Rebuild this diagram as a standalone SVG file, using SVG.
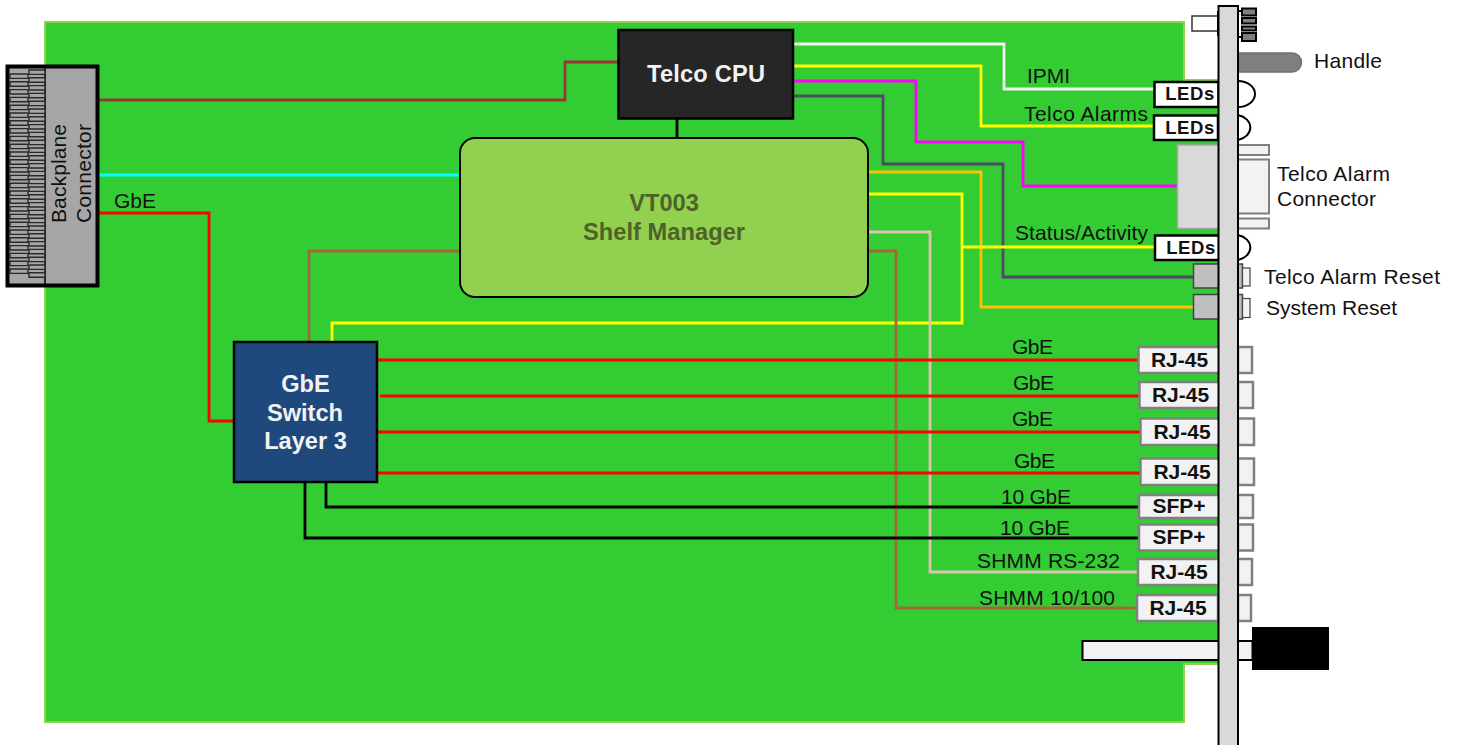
<svg xmlns="http://www.w3.org/2000/svg" width="1461" height="745" viewBox="0 0 1461 745">
<defs>
<style>
text{font-family:"Liberation Sans",Arial,sans-serif;fill:#111}
.l{font-size:21px}
.b{font-weight:bold;font-size:21px;text-anchor:middle}
.n{font-weight:bold;font-size:23.6px;text-anchor:middle;fill:#f2f2f2}
.led{font-weight:bold;font-size:18.5px;letter-spacing:.6px;text-anchor:middle}
.w{fill:none;stroke-width:2.800}
.p{fill:#f2f2f2;stroke:#808080;stroke-width:2.500}
.k{fill:#fff;stroke:#000;stroke-width:2.500}
.g{fill:#bfbfbf;stroke:#444;stroke-width:1.500}
.t{fill:#f2f2f2;stroke:#7f7f7f;stroke-width:2}
.q{fill:#fff;stroke:#000;stroke-width:2}
</style>
</defs>
<path id="board" d="M45,22H1184V80H1225V664H1184V722H45Z" fill="#33cc33" stroke="#92d050" stroke-width="2"/>
<g id="connectors" class="w">
<path class="w" stroke="#953735" d="M99,100H565V62H618"/>
<path class="w" stroke="#00ffff" d="M99,175H460"/>
<path class="w" stroke="#ff0000" d="M99,213H209V421H234"/>
<path class="w" stroke="#000" d="M677,118V138"/>
<path class="w" stroke="#f2f2f2" d="M793,44H1004V89H1154"/>
<path class="w" stroke="#ffff00" d="M793,66H981V126H1154"/>
<path class="w" stroke="#ff00ff" d="M793,81H916V142H1023V186H1178"/>
<path class="w" stroke="#4f4a66" d="M793,96H883V164H1003V277H1193"/>
<path class="w" stroke="#ffc000" d="M868,172H981V307H1193"/>
<path class="w" stroke="#ffff00" d="M868,194H962V323H332V342M962,247H1155"/>
<path class="w" stroke="#ddc3b0" d="M868,232H930V572H1138"/>
<path class="w" stroke="#a5663c" d="M868,251H896V608H1137M460,251H309V342"/>
<path class="w" stroke="#ff0000" d="M377,360H1138M380,396H1139M377,432H1140M377,473H1140"/>
<path class="w" stroke="#000" d="M326,482V507H1139M305,482V538H1139"/>
</g>
<g id="backplane-connector">
<rect x="7.500" y="66.500" width="90" height="219" fill="#a6a6a6" stroke="#000" stroke-width="4"/>
<path d="M45,68V284" stroke="#000" stroke-width="1.500"/>
<path fill="#a6a6a6" stroke="#2a2a2a" stroke-width="1.400" d="M10,74h18v4.400h-18zm0,7.800h18v4.400h-18zm0,7.800h18v4.400h-18zm0,7.800h18v4.400h-18zm0,7.800h18v4.400h-18zm0,7.800h18v4.400h-18zm0,7.800h18v4.400h-18zm0,7.800h18v4.400h-18zm0,7.800h18v4.400h-18zm0,7.800h18v4.400h-18zm0,7.800h18v4.400h-18zm0,7.800h18v4.400h-18zm0,7.800h18v4.400h-18zm0,7.800h18v4.400h-18zm0,7.800h18v4.400h-18zm0,7.800h18v4.400h-18zm0,7.800h18v4.400h-18zm0,7.800h18v4.400h-18zm0,7.800h18v4.400h-18zm0,7.800h18v4.400h-18zm0,7.800h18v4.400h-18zm0,7.800h18v4.400h-18zm0,7.800h18v4.400h-18zm0,7.800h18v4.400h-18zm0,7.800h18v4.400h-18zm0,7.800h18v4.400h-18z"/>
<path fill="#a6a6a6" stroke="#2a2a2a" stroke-width="1.400" d="M29,70h16v4.400h-16zm0,7.800h16v4.400h-16zm0,7.800h16v4.400h-16zm0,7.800h16v4.400h-16zm0,7.800h16v4.400h-16zm0,7.800h16v4.400h-16zm0,7.800h16v4.400h-16zm0,7.800h16v4.400h-16zm0,7.800h16v4.400h-16zm0,7.800h16v4.400h-16zm0,7.800h16v4.400h-16zm0,7.800h16v4.400h-16zm0,7.800h16v4.400h-16zm0,7.800h16v4.400h-16zm0,7.800h16v4.400h-16zm0,7.800h16v4.400h-16zm0,7.800h16v4.400h-16zm0,7.800h16v4.400h-16zm0,7.800h16v4.400h-16zm0,7.800h16v4.400h-16zm0,7.800h16v4.400h-16zm0,7.800h16v4.400h-16zm0,7.800h16v4.400h-16zm0,7.800h16v4.400h-16zm0,7.800h16v4.400h-16zm0,7.800h16v4.400h-16zm0,7.800h16v4.400h-16z"/>
<text class="l" text-anchor="middle" textLength="99" transform="translate(66,173.500) rotate(-90)">Backplane</text>
<text class="l" text-anchor="middle" textLength="99" transform="translate(91,173.500) rotate(-90)">Connector</text>
</g>
<g id="telco-cpu"><rect x="618.500" y="30" width="174.500" height="88.500" fill="#262626" stroke="#000" stroke-width="2.500"/><text class="n" x="706" y="82" textLength="118">Telco CPU</text></g>
<g id="shelf-manager"><rect x="460" y="138" width="408" height="159" rx="15" fill="#92d050" stroke="#000" stroke-width="2"/><text class="n" style="fill:#4f6228" x="664" y="211">VT003</text><text class="n" style="fill:#4f6228" x="664" y="240" textLength="162">Shelf Manager</text></g>
<g id="gbe-switch"><rect x="234" y="342" width="143" height="140" fill="#1f497d" stroke="#000" stroke-width="2.500"/><text class="n" x="305.500" y="392">GbE</text><text class="n" x="305" y="421">Switch</text><text class="n" x="305.500" y="449">Layer 3</text></g>
<g id="top-screw">
<rect x="1192" y="16" width="27" height="15" fill="#fff" stroke="#333" stroke-width="1.500"/>
<path d="M1218,11V36M1238,11H1242M1238,37H1242" stroke="#000" stroke-width="2"/>
<path d="M1242,8.500h14v7h-14zM1242,18h14v5.500h-14zM1242,26.500h14v4h-14zM1242,33h14v8h-14z" fill="#7f7f7f" stroke="#000" stroke-width="2"/>
</g>
<g id="handle"><path d="M1238,53H1292a9.500,9.500 0 0 1 0,19H1238Z" fill="#7f7f7f" stroke="#6f6f6f" stroke-width="1.500"/><text class="l" x="1314" y="68" textLength="68">Handle</text></g>
<g id="leds-1"><path class="q" d="M1238,81a17,13 0 0 1 0,26"/><rect class="k" x="1154.500" y="82" width="64" height="25"/><text class="led" x="1190" y="100">LEDs</text></g>
<g id="leds-2"><path class="q" d="M1238,115a17,13 0 0 1 0,25"/><rect class="k" x="1154" y="115.500" width="64" height="24.500"/><text class="led" x="1190" y="134">LEDs</text></g>
<g id="leds-3"><path class="q" d="M1238,235a17,13 0 0 1 0,25"/><rect class="k" x="1155" y="235.500" width="64" height="24.500"/><text class="led" x="1191" y="254">LEDs</text></g>
<g id="telco-alarm-connector">
<rect x="1177.500" y="145" width="42" height="83.500" fill="#d9d9d9" stroke="#a6a6a6" stroke-width="1.500"/>
<rect class="t" x="1238" y="145" width="31" height="10"/><rect class="t" x="1238" y="159.500" width="31" height="54"/><rect class="t" x="1238" y="218.500" width="31" height="10"/>
<text class="l" x="1277" y="181" textLength="113">Telco Alarm</text><text class="l" x="1277" y="206" textLength="99">Connector</text>
</g>
<g id="telco-alarm-reset"><rect class="g" x="1193.500" y="264" width="26" height="24"/><rect class="g" x="1238" y="264" width="4.500" height="24"/><rect x="1242.500" y="268" width="7.500" height="18" fill="#f2f2f2" stroke="#444" stroke-width="1.200"/><text class="l" x="1264" y="284" textLength="176">Telco Alarm Reset</text></g>
<g id="system-reset"><rect class="g" x="1193.500" y="294.500" width="26" height="24.500"/><rect class="g" x="1238" y="294.500" width="4.500" height="24.500"/><rect x="1242.500" y="298.500" width="7.500" height="19" fill="#f2f2f2" stroke="#444" stroke-width="1.200"/><text class="l" x="1266" y="315" textLength="131">System Reset</text></g>
<g id="port-1"><rect class="p" x="1138.500" y="347" width="81" height="26"/><rect class="p" x="1238" y="347" width="14" height="26"/><text class="b" x="1179.500" y="367">RJ-45</text></g>
<g id="port-2"><rect class="p" x="1139.500" y="382" width="81" height="26"/><rect class="p" x="1238" y="382" width="15" height="26"/><text class="b" x="1180.500" y="402">RJ-45</text></g>
<g id="port-3"><rect class="p" x="1140.500" y="418.500" width="81" height="26.500"/><rect class="p" x="1238" y="418.500" width="16" height="26.500"/><text class="b" x="1182" y="439">RJ-45</text></g>
<g id="port-4"><rect class="p" x="1140.500" y="458.500" width="81" height="26.500"/><rect class="p" x="1238" y="458.500" width="16" height="26.500"/><text class="b" x="1182" y="479">RJ-45</text></g>
<g id="port-5"><rect class="p" x="1139" y="495" width="81" height="23"/><rect class="p" x="1238" y="495" width="15" height="23"/><text class="b" x="1179" y="513">SFP+</text></g>
<g id="port-6"><rect class="p" x="1139" y="524.500" width="81" height="26"/><rect class="p" x="1238" y="524.500" width="15" height="26"/><text class="b" x="1179" y="544">SFP+</text></g>
<g id="port-7"><rect class="p" x="1138" y="559" width="81" height="26"/><rect class="p" x="1238" y="559" width="14" height="26"/><text class="b" x="1179" y="579">RJ-45</text></g>
<g id="port-8"><rect class="p" x="1137" y="595" width="81" height="26"/><rect class="p" x="1238" y="595" width="13" height="26"/><text class="b" x="1178" y="615">RJ-45</text></g>
<g id="bottom-latch"><rect x="1082.500" y="641" width="170" height="19" fill="#f2f2f2" stroke="#000" stroke-width="2"/><rect x="1252" y="627" width="77" height="43" fill="#000"/></g>
<g id="front-panel"><rect x="1218.500" y="6" width="19.500" height="745" fill="#d9d9d9" stroke="#000" stroke-width="2"/></g>
<g id="labels">
<text class="l" x="114" y="208">GbE</text>
<text class="l" x="1027" y="83" textLength="43">IPMI</text>
<text class="l" x="1024" y="121" textLength="124">Telco Alarms</text>
<text class="l" x="1015" y="240" textLength="133">Status/Activity</text>
<text class="l" x="1012" y="354" textLength="41">GbE</text>
<text class="l" x="1013" y="390" textLength="41">GbE</text>
<text class="l" x="1012" y="426" textLength="41">GbE</text>
<text class="l" x="1014" y="468" textLength="41">GbE</text>
<text class="l" x="1001" y="504" textLength="70">10 GbE</text>
<text class="l" x="1000" y="535" textLength="70">10 GbE</text>
<text class="l" x="977" y="568" textLength="143">SHMM RS-232</text>
<text class="l" x="979" y="605" textLength="136">SHMM 10/100</text>
</g>
</svg>
